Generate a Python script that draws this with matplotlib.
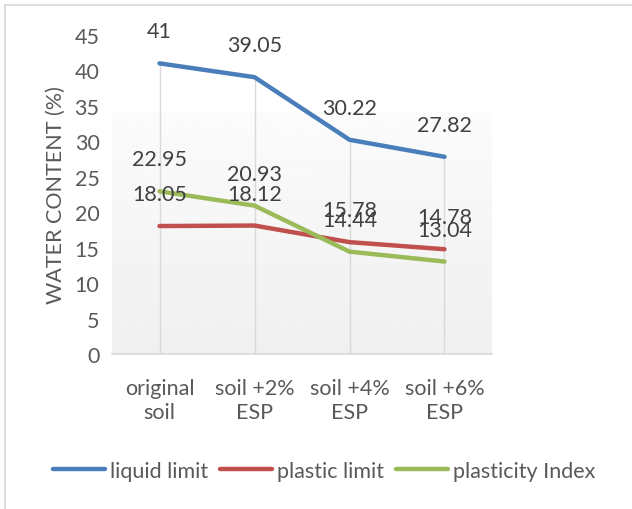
import matplotlib
matplotlib.use("Agg")
import matplotlib.pyplot as plt
from matplotlib.lines import Line2D
import numpy as np

# data
categories = ["original\nsoil", "soil +2%\nESP", "soil +4%\nESP", "soil +6%\nESP"]
liquid_limit = [41, 39.05, 30.22, 27.82]
plastic_limit = [18.05, 18.12, 15.78, 14.78]
plasticity_index = [22.95, 20.93, 14.44, 13.04]
y_ticks = [0, 5, 10, 15, 20, 25, 30, 35, 40, 45]

plt.rcParams['font.family'] = ['Lato', 'DejaVu Sans']
fs = 15.5
plt.rcParams['font.size'] = fs
text_color = '#595959'

fig = plt.figure(figsize=(6.32, 5.10), dpi=100)
fig.patch.set_facecolor('white')
ax = fig.add_axes([112 / 632, 1 - 355 / 510, 380 / 632, 319 / 510])

x = np.arange(len(categories))
ax.set_xlim(-0.5, len(categories) - 0.5)
ax.set_ylim(0, 45)

# soft gradient in the lower part of the plot area
grad = np.linspace(0.94, 0.985, 100).reshape(-1, 1)
ax.imshow(grad, extent=(-0.5, len(categories) - 0.5, 0, 34), origin='lower',
          cmap='gray', vmin=0, vmax=1, aspect='auto', zorder=0)

# drop lines from the highest series to the axis
ax.vlines(x, 0, liquid_limit, color='#d9d9d9', linewidth=1, zorder=1)

series = [
    ("liquid limit", liquid_limit, '#4a7ebb'),
    ("plastic limit", plastic_limit, '#c0504d'),
    ("plasticity Index", plasticity_index, '#9bbb59'),
]
for name, vals, col in series:
    ax.plot(x, vals, color=col, linewidth=3.2, solid_capstyle='round', label=name, zorder=3)

for name, vals, col in series:
    for xi, v in zip(x, vals):
        ax.annotate(f'{v:g}', xy=(xi, v), xytext=(0, 23), textcoords='offset points',
                    ha='center', va='center', color='#404040', fontsize=fs, zorder=4)

for side in ['left', 'right', 'top']:
    ax.spines[side].set_visible(False)
ax.spines['bottom'].set_color('#d9d9d9')
ax.spines['bottom'].set_linewidth(1.2)

ax.set_yticks(y_ticks)
ax.set_xticks(x)
ax.set_xticklabels(categories, linespacing=1.3)
ax.tick_params(axis='both', length=0, colors=text_color, labelsize=fs)
ax.tick_params(axis='y', pad=9)
ax.tick_params(axis='x', pad=17)
ax.set_ylabel('WATER CONTENT (%)', color=text_color, fontsize=fs, labelpad=6)

leg = fig.legend(loc='center', bbox_to_anchor=(0.513, 1 - 472 / 510), ncol=3,
                 frameon=False, handlelength=2.4, handletextpad=0.25,
                 columnspacing=0.55, fontsize=fs)
for t in leg.get_texts():
    t.set_color(text_color)

# outer chart border
fig.add_artist(Line2D([5 / 632, 5 / 632], [0, 1 - 6 / 510], color='#d9d9d9', lw=1.2, transform=fig.transFigure))
fig.add_artist(Line2D([5 / 632, 1], [1 - 6 / 510, 1 - 6 / 510], color='#d9d9d9', lw=1.2, transform=fig.transFigure))

fig.savefig('out.png', dpi=100, facecolor='white')
